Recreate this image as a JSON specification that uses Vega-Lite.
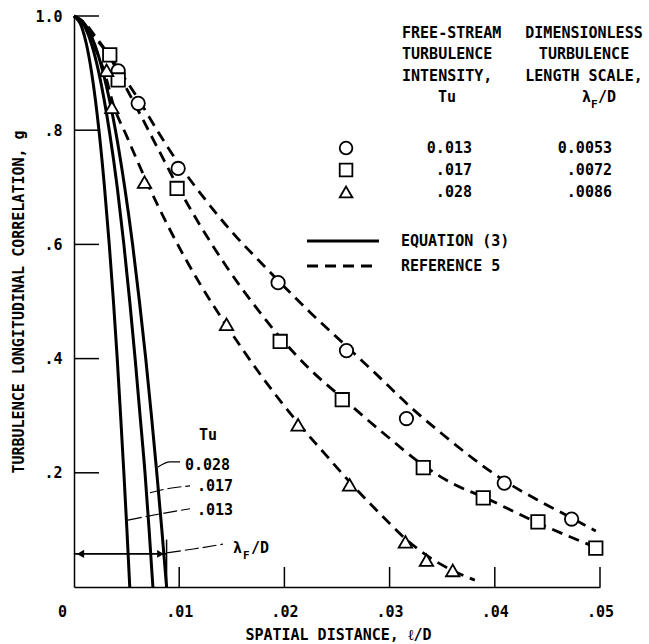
{
  "$schema": "https://vega.github.io/schema/vega-lite/v6.json",
  "width": 526,
  "height": 571,
  "autosize": "none",
  "padding": {"left": 74, "top": 16, "right": 49, "bottom": 57},
  "background": "white",
  "config": {
    "view": {"stroke": null},
    "font": "DejaVu Sans Mono",
    "text": {"font": "DejaVu Sans Mono", "fontSize": 15, "fontWeight": "bold", "color": "black", "baseline": "middle"}
  },
  "datasets": {
    "equation": [
      {"Tu": "0.013", "x": 0, "g": 1}, {"Tu": "0.013", "x": 0.00075, "g": 0.98}, {"Tu": "0.013", "x": 0.00119, "g": 0.95},
      {"Tu": "0.013", "x": 0.00168, "g": 0.9}, {"Tu": "0.013", "x": 0.00237, "g": 0.8}, {"Tu": "0.013", "x": 0.0029, "g": 0.7},
      {"Tu": "0.013", "x": 0.00335, "g": 0.6}, {"Tu": "0.013", "x": 0.00375, "g": 0.5}, {"Tu": "0.013", "x": 0.00411, "g": 0.4},
      {"Tu": "0.013", "x": 0.00443, "g": 0.3}, {"Tu": "0.013", "x": 0.00474, "g": 0.2}, {"Tu": "0.013", "x": 0.00503, "g": 0.1},
      {"Tu": "0.013", "x": 0.0053, "g": 0},
      {"Tu": "0.017", "x": 0, "g": 1}, {"Tu": "0.017", "x": 0.00106, "g": 0.98}, {"Tu": "0.017", "x": 0.00168, "g": 0.95},
      {"Tu": "0.017", "x": 0.00237, "g": 0.9}, {"Tu": "0.017", "x": 0.00335, "g": 0.8}, {"Tu": "0.017", "x": 0.00411, "g": 0.7},
      {"Tu": "0.017", "x": 0.00474, "g": 0.6}, {"Tu": "0.017", "x": 0.0053, "g": 0.5}, {"Tu": "0.017", "x": 0.00581, "g": 0.4},
      {"Tu": "0.017", "x": 0.00628, "g": 0.3}, {"Tu": "0.017", "x": 0.00675, "g": 0.2}, {"Tu": "0.017", "x": 0.00714, "g": 0.1},
      {"Tu": "0.017", "x": 0.0075, "g": 0},
      {"Tu": "0.028", "x": 0, "g": 1}, {"Tu": "0.028", "x": 0.00124, "g": 0.98}, {"Tu": "0.028", "x": 0.00197, "g": 0.95},
      {"Tu": "0.028", "x": 0.00278, "g": 0.9}, {"Tu": "0.028", "x": 0.00394, "g": 0.8}, {"Tu": "0.028", "x": 0.00482, "g": 0.7},
      {"Tu": "0.028", "x": 0.00557, "g": 0.6}, {"Tu": "0.028", "x": 0.00622, "g": 0.5}, {"Tu": "0.028", "x": 0.00682, "g": 0.4},
      {"Tu": "0.028", "x": 0.00736, "g": 0.3}, {"Tu": "0.028", "x": 0.00787, "g": 0.2}, {"Tu": "0.028", "x": 0.00835, "g": 0.1},
      {"Tu": "0.028", "x": 0.0088, "g": 0}
    ],
    "reference5": [
      {"Tu": "0.013", "x": 0, "g": 1}, {"Tu": "0.013", "x": 0.001, "g": 0.988}, {"Tu": "0.013", "x": 0.002, "g": 0.965},
      {"Tu": "0.013", "x": 0.003, "g": 0.94}, {"Tu": "0.013", "x": 0.0043, "g": 0.905}, {"Tu": "0.013", "x": 0.0062, "g": 0.852},
      {"Tu": "0.013", "x": 0.008, "g": 0.797}, {"Tu": "0.013", "x": 0.01, "g": 0.74}, {"Tu": "0.013", "x": 0.0125, "g": 0.678},
      {"Tu": "0.013", "x": 0.015, "g": 0.622}, {"Tu": "0.013", "x": 0.0175, "g": 0.573}, {"Tu": "0.013", "x": 0.0195, "g": 0.535},
      {"Tu": "0.013", "x": 0.0225, "g": 0.48}, {"Tu": "0.013", "x": 0.026, "g": 0.42}, {"Tu": "0.013", "x": 0.029, "g": 0.368},
      {"Tu": "0.013", "x": 0.032, "g": 0.315}, {"Tu": "0.013", "x": 0.035, "g": 0.268}, {"Tu": "0.013", "x": 0.038, "g": 0.224},
      {"Tu": "0.013", "x": 0.041, "g": 0.185}, {"Tu": "0.013", "x": 0.0445, "g": 0.148}, {"Tu": "0.013", "x": 0.0475, "g": 0.119},
      {"Tu": "0.013", "x": 0.0496, "g": 0.098},
      {"Tu": "0.017", "x": 0, "g": 1}, {"Tu": "0.017", "x": 0.001, "g": 0.985}, {"Tu": "0.017", "x": 0.002, "g": 0.962},
      {"Tu": "0.017", "x": 0.0035, "g": 0.925}, {"Tu": "0.017", "x": 0.0045, "g": 0.89}, {"Tu": "0.017", "x": 0.006, "g": 0.838},
      {"Tu": "0.017", "x": 0.008, "g": 0.767}, {"Tu": "0.017", "x": 0.0099, "g": 0.7}, {"Tu": "0.017", "x": 0.012, "g": 0.633},
      {"Tu": "0.017", "x": 0.0145, "g": 0.561}, {"Tu": "0.017", "x": 0.017, "g": 0.497}, {"Tu": "0.017", "x": 0.0197, "g": 0.435},
      {"Tu": "0.017", "x": 0.0225, "g": 0.38}, {"Tu": "0.017", "x": 0.0257, "g": 0.328}, {"Tu": "0.017", "x": 0.0295, "g": 0.268},
      {"Tu": "0.017", "x": 0.0333, "g": 0.212}, {"Tu": "0.017", "x": 0.036, "g": 0.181}, {"Tu": "0.017", "x": 0.039, "g": 0.157},
      {"Tu": "0.017", "x": 0.0415, "g": 0.135}, {"Tu": "0.017", "x": 0.044, "g": 0.113}, {"Tu": "0.017", "x": 0.047, "g": 0.089},
      {"Tu": "0.017", "x": 0.0498, "g": 0.068},
      {"Tu": "0.028", "x": 0, "g": 1}, {"Tu": "0.028", "x": 0.001, "g": 0.982}, {"Tu": "0.028", "x": 0.002, "g": 0.945},
      {"Tu": "0.028", "x": 0.003, "g": 0.895}, {"Tu": "0.028", "x": 0.0037, "g": 0.847}, {"Tu": "0.028", "x": 0.005, "g": 0.79},
      {"Tu": "0.028", "x": 0.0069, "g": 0.71}, {"Tu": "0.028", "x": 0.009, "g": 0.63}, {"Tu": "0.028", "x": 0.012, "g": 0.53},
      {"Tu": "0.028", "x": 0.0146, "g": 0.455}, {"Tu": "0.028", "x": 0.018, "g": 0.365}, {"Tu": "0.028", "x": 0.0214, "g": 0.285},
      {"Tu": "0.028", "x": 0.024, "g": 0.23}, {"Tu": "0.028", "x": 0.0264, "g": 0.18}, {"Tu": "0.028", "x": 0.029, "g": 0.13},
      {"Tu": "0.028", "x": 0.0316, "g": 0.083}, {"Tu": "0.028", "x": 0.0337, "g": 0.053}, {"Tu": "0.028", "x": 0.0362, "g": 0.027},
      {"Tu": "0.028", "x": 0.0381, "g": 0.012}
    ],
    "measured": [
      {"Tu": "0.013", "x": 0.0042, "g": 0.904}, {"Tu": "0.013", "x": 0.0061, "g": 0.847}, {"Tu": "0.013", "x": 0.0099, "g": 0.733},
      {"Tu": "0.013", "x": 0.0194, "g": 0.533}, {"Tu": "0.013", "x": 0.0259, "g": 0.414}, {"Tu": "0.013", "x": 0.0316, "g": 0.295},
      {"Tu": "0.013", "x": 0.0409, "g": 0.182}, {"Tu": "0.013", "x": 0.0473, "g": 0.119},
      {"Tu": "0.017", "x": 0.0034, "g": 0.932}, {"Tu": "0.017", "x": 0.0042, "g": 0.888}, {"Tu": "0.017", "x": 0.0098, "g": 0.698},
      {"Tu": "0.017", "x": 0.0196, "g": 0.43}, {"Tu": "0.017", "x": 0.0255, "g": 0.328}, {"Tu": "0.017", "x": 0.0332, "g": 0.209},
      {"Tu": "0.017", "x": 0.0389, "g": 0.156}, {"Tu": "0.017", "x": 0.0441, "g": 0.114}, {"Tu": "0.017", "x": 0.0496, "g": 0.068},
      {"Tu": "0.028", "x": 0.0031, "g": 0.905}, {"Tu": "0.028", "x": 0.0036, "g": 0.84}, {"Tu": "0.028", "x": 0.0067, "g": 0.709},
      {"Tu": "0.028", "x": 0.0145, "g": 0.46}, {"Tu": "0.028", "x": 0.0213, "g": 0.284}, {"Tu": "0.028", "x": 0.0262, "g": 0.179},
      {"Tu": "0.028", "x": 0.0315, "g": 0.079}, {"Tu": "0.028", "x": 0.0335, "g": 0.047}, {"Tu": "0.028", "x": 0.036, "g": 0.029}
    ],
    "legendMarks": [
      {"Tu": "0.013", "x": 0.02586, "g": 0.7688},
      {"Tu": "0.017", "x": 0.02586, "g": 0.7303},
      {"Tu": "0.028", "x": 0.02586, "g": 0.6918}
    ],
    "legendSolid": [{"x": 0.02215, "x2": 0.02899, "g": 0.606}],
    "legendDashed": [{"x": 0.02215, "x2": 0.02899, "g": 0.5622}],
    "yTicks": [
      {"x": 0, "x2": 0.00238, "g": 0.2}, {"x": 0, "x2": 0.00238, "g": 0.4}, {"x": 0, "x2": 0.00238, "g": 0.6},
      {"x": 0, "x2": 0.00238, "g": 0.8}, {"x": 0, "x2": 0.00238, "g": 1.0}
    ],
    "xTicks": [
      {"x": 0.01, "g": 0, "g2": 0.035}, {"x": 0.02, "g": 0, "g2": 0.035}, {"x": 0.03, "g": 0, "g2": 0.035},
      {"x": 0.04, "g": 0, "g2": 0.035}, {"x": 0.05, "g": 0, "g2": 0.035}
    ],
    "arrowLeft": [{"x": 0.00062, "g": 0.058}],
    "arrowRight": [{"x": 0.00822, "g": 0.058}],
    "textLeft": [
      {"label": "FREE-STREAM", "x": 0.03118, "g": 0.9702},
      {"label": "TURBULENCE", "x": 0.03118, "g": 0.9326},
      {"label": "INTENSITY,", "x": 0.03118, "g": 0.8949},
      {"label": "EQUATION (3)", "x": 0.03108, "g": 0.606},
      {"label": "REFERENCE 5", "x": 0.03108, "g": 0.5622},
      {"label": "0.028", "x": 0.01055, "g": 0.2137},
      {"label": ".017", "x": 0.01169, "g": 0.1769},
      {"label": ".013", "x": 0.01169, "g": 0.1349},
      {"label": "λ", "x": 0.01511, "g": 0.0683},
      {"label": "/D", "x": 0.01683, "g": 0.0683},
      {"label": "λ", "x": 0.04829, "g": 0.8573},
      {"label": "/D", "x": 0.04981, "g": 0.8573}
    ],
    "textCenter": [
      {"label": "Tu", "x": 0.03546, "g": 0.8573},
      {"label": "DIMENSIONLESS", "x": 0.04848, "g": 0.9702},
      {"label": "TURBULENCE", "x": 0.04848, "g": 0.9326},
      {"label": "LENGTH SCALE,", "x": 0.04848, "g": 0.8949},
      {"label": "Tu", "x": 0.01274, "g": 0.2662}
    ],
    "textRight": [
      {"label": "0.013", "x": 0.03783, "g": 0.7688},
      {"label": ".017", "x": 0.03783, "g": 0.7303},
      {"label": ".028", "x": 0.03783, "g": 0.6918},
      {"label": "0.0053", "x": 0.05114, "g": 0.7688},
      {"label": ".0072", "x": 0.05114, "g": 0.7303},
      {"label": ".0086", "x": 0.05114, "g": 0.6918}
    ],
    "subscripts": [
      {"label": "F", "x": 0.01606, "g": 0.0543},
      {"label": "F", "x": 0.04914, "g": 0.8443}
    ],
    "leadersSolid": [
      {"id": "a", "x": 0.00798, "g": 0.21}, {"id": "a", "x": 0.00913, "g": 0.219}, {"id": "a", "x": 0.01008, "g": 0.219}
    ],
    "leadersDashed": [
      {"id": "b", "x": 0.00722, "g": 0.165}, {"id": "b", "x": 0.00913, "g": 0.173}, {"id": "b", "x": 0.01103, "g": 0.177},
      {"id": "c", "x": 0.00513, "g": 0.117}, {"id": "c", "x": 0.00817, "g": 0.128}, {"id": "c", "x": 0.01103, "g": 0.137},
      {"id": "d", "x": 0.00884, "g": 0.06}, {"id": "d", "x": 0.0115, "g": 0.067}, {"id": "d", "x": 0.01416, "g": 0.075}
    ],
    "arrow": [
      {"id": "h", "x": 0, "g": 0.058}, {"id": "h", "x": 0.0088, "g": 0.058}
    ],
    "marker": [
      {"id": "v", "x": 0.0088, "g": 0}, {"id": "v", "x": 0.0088, "g": 0.083}
    ]
  },
  "encoding": {
    "x": {
      "field": "x", "type": "quantitative",
      "scale": {"domain": [0, 0.05], "nice": false, "zero": false},
      "axis": {
        "values": [0, 0.01, 0.02, 0.03, 0.04, 0.05],
        "labelExpr": "datum.value == 0 ? '0' : replace(format(datum.value, '.2f'), '0.', '.')",
        "grid": false, "ticks": false,
        "domainColor": "black", "domainWidth": 1.5,
        "labelFont": "DejaVu Sans Mono", "labelFontSize": 15, "labelFontWeight": "bold", "labelColor": "black",
        "labelBaseline": "alphabetic", "labelPadding": 29.5,
        "labelFlush": false, "labelOverlap": false, "labelBound": false,
        "labelOffset": {"condition": {"test": "datum.value == 0", "value": -12}, "value": 0},
        "title": "SPATIAL DISTANCE, ℓ/D",
        "titleFont": "DejaVu Sans Mono", "titleFontSize": 15, "titleFontWeight": "bold", "titleColor": "black",
        "titleBaseline": "alphabetic", "titleX": 264, "titleY": 52.5, "titleAnchor": "middle", "titleAlign": "center"
      }
    },
    "y": {
      "field": "g", "type": "quantitative",
      "scale": {"domain": [0, 1], "nice": false},
      "axis": {
        "values": [0.2, 0.4, 0.6, 0.8, 1.0],
        "labelExpr": "datum.value == 1 ? '1.0' : replace(format(datum.value, '.1f'), '0.', '.')",
        "grid": false, "ticks": false,
        "domainColor": "black", "domainWidth": 1.5,
        "labelFont": "DejaVu Sans Mono", "labelFontSize": 15, "labelFontWeight": "bold", "labelColor": "black",
        "labelPadding": 12, "labelFlush": false, "labelOverlap": false, "labelBound": false,
        "title": "TURBULENCE LONGITUDINAL CORRELATION, g",
        "titleFont": "DejaVu Sans Mono", "titleFontSize": 15, "titleFontWeight": "bold", "titleColor": "black",
        "titleBaseline": "alphabetic", "titleAngle": -90, "titleX": -50.5, "titleY": 285.5, "titleAlign": "center"
      }
    }
  },
  "layer": [
    {
      "data": {"name": "yTicks"},
      "mark": {"type": "rule", "color": "black", "strokeWidth": 1.5},
      "encoding": {"x2": {"field": "x2"}}
    },
    {
      "data": {"name": "xTicks"},
      "mark": {"type": "rule", "color": "black", "strokeWidth": 1.5},
      "encoding": {"y2": {"field": "g2"}}
    },
    {
      "data": {"name": "equation"},
      "mark": {"type": "line", "color": "black", "strokeWidth": 3, "interpolate": "monotone"},
      "encoding": {"detail": {"field": "Tu"}}
    },
    {
      "data": {"name": "reference5"},
      "mark": {"type": "line", "color": "black", "strokeWidth": 2.8, "strokeDash": [11, 7], "interpolate": "monotone"},
      "encoding": {"detail": {"field": "Tu"}}
    },
    {
      "data": {"name": "leadersSolid"},
      "mark": {"type": "line", "color": "black", "strokeWidth": 1.2, "interpolate": "monotone"},
      "encoding": {"detail": {"field": "id"}}
    },
    {
      "data": {"name": "leadersDashed"},
      "mark": {"type": "line", "color": "black", "strokeWidth": 1.2, "strokeDash": [14, 4], "interpolate": "monotone"},
      "encoding": {"detail": {"field": "id"}}
    },
    {
      "data": {"name": "arrow"},
      "mark": {"type": "line", "color": "black", "strokeWidth": 1.8},
      "encoding": {"detail": {"field": "id"}}
    },
    {
      "data": {"name": "marker"},
      "mark": {"type": "line", "color": "black", "strokeWidth": 1.5},
      "encoding": {"detail": {"field": "id"}}
    },
    {
      "data": {"name": "arrowLeft"},
      "mark": {"type": "point", "shape": "triangle-left", "filled": true, "color": "black", "size": 70, "opacity": 1}
    },
    {
      "data": {"name": "arrowRight"},
      "mark": {"type": "point", "shape": "triangle-right", "filled": true, "color": "black", "size": 60, "opacity": 1}
    },
    {
      "data": {"name": "measured"},
      "mark": {"type": "point", "filled": true, "fill": "white", "stroke": "black", "strokeWidth": 1.8, "opacity": 1, "size": 180},
      "encoding": {
        "shape": {"field": "Tu", "type": "nominal", "scale": {"domain": ["0.013", "0.017", "0.028"], "range": ["circle", "square", "triangle-up"]}, "legend": null}
      }
    },
    {
      "data": {"name": "legendMarks"},
      "mark": {"type": "point", "filled": true, "fill": "white", "stroke": "black", "strokeWidth": 1.8, "opacity": 1, "size": 160},
      "encoding": {
        "shape": {"field": "Tu", "type": "nominal", "scale": {"domain": ["0.013", "0.017", "0.028"], "range": ["circle", "square", "triangle-up"]}, "legend": null}
      }
    },
    {
      "data": {"name": "legendSolid"},
      "mark": {"type": "rule", "color": "black", "strokeWidth": 3},
      "encoding": {"x2": {"field": "x2"}}
    },
    {
      "data": {"name": "legendDashed"},
      "mark": {"type": "rule", "color": "black", "strokeWidth": 3, "strokeDash": [11, 7]},
      "encoding": {"x2": {"field": "x2"}}
    },
    {
      "data": {"name": "textLeft"},
      "mark": {"type": "text", "align": "left"},
      "encoding": {"text": {"field": "label"}}
    },
    {
      "data": {"name": "textCenter"},
      "mark": {"type": "text", "align": "center"},
      "encoding": {"text": {"field": "label"}}
    },
    {
      "data": {"name": "textRight"},
      "mark": {"type": "text", "align": "right"},
      "encoding": {"text": {"field": "label"}}
    },
    {
      "data": {"name": "subscripts"},
      "mark": {"type": "text", "align": "left", "fontSize": 11},
      "encoding": {"text": {"field": "label"}}
    }
  ]
}
